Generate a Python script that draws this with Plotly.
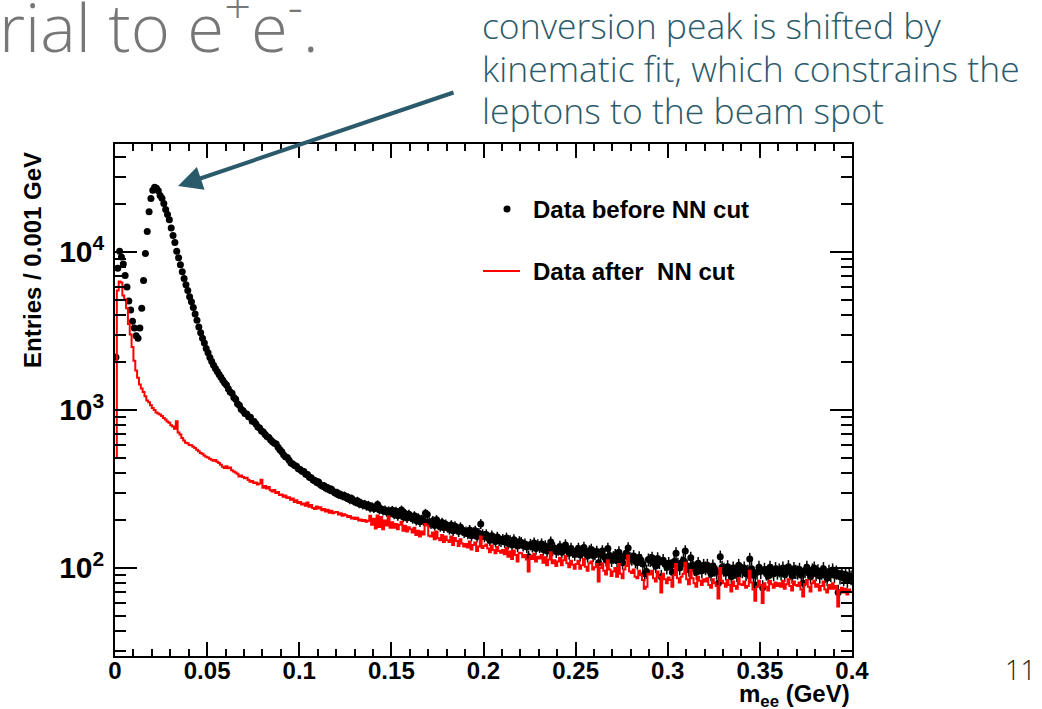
import numpy as np
import plotly.graph_objects as go

# ---------------- data (entries per 0.001 GeV bin, 0 - 0.4 GeV) ----------------
bin_width = 0.001
n_bins = 400

before_nn = [
    2160, 7900, 10100, 9300, 8400, 7100, 6000, 4900, 4300, 3650,
    3300, 2950, 2850, 3300, 4400, 6600, 9800, 13500, 18000, 21800,
    24600, 25700, 25300, 24400, 22800, 21900, 20300, 18600, 17300, 16000,
    14200, 12700, 11500, 10100, 9200, 8300, 7500, 6800, 6200, 5700,
    5200, 4850, 4450, 4050, 3700, 3350, 3080, 2850, 2650, 2450,
    2300, 2150, 2030, 1920, 1830, 1750, 1680, 1610, 1540, 1480,
    1440, 1365, 1300, 1275, 1200, 1170, 1095, 1070, 1010, 990,
    950, 945, 905, 900, 850, 845, 815, 780, 770, 735,
    725, 700, 680, 670, 645, 630, 615, 610, 580, 560,
    545, 520, 505, 500, 480, 462, 455, 445, 440, 425,
    420, 410, 408, 392, 390, 375, 372, 360, 358, 348,
    350, 336, 330, 332, 320, 322, 312, 315, 305, 298,
    300, 290, 292, 285, 288, 278, 280, 270, 275, 265,
    262, 266, 255, 258, 250, 254, 246, 250, 240, 245,
    238, 242, 252, 234, 236, 230, 233, 226, 230, 224,
    232, 218, 229, 214, 226, 233, 210, 221, 207, 219,
    211, 205, 214, 200, 208, 196, 203, 199, 222, 218,
    195, 190, 199, 186, 202, 188, 183, 194, 180, 189,
    181, 176, 187, 172, 184, 178, 170, 181, 174, 168,
    170, 165, 174, 160, 168, 172, 158, 166, 190, 163,
    158, 163, 155, 150, 160, 153, 147, 157, 150, 148,
    152, 146, 155, 143, 149, 140, 151, 145, 138, 147,
    145, 139, 142, 136, 118, 141, 137, 144, 133, 140,
    136, 142, 131, 138, 128, 135, 146, 130, 134, 127,
    131, 137, 126, 134, 140, 129, 124, 133, 127, 122,
    128, 133, 121, 126, 135, 124, 119, 128, 131, 120,
    123, 127, 108, 122, 128, 118, 113, 133, 120, 112,
    117, 121, 111, 126, 114, 108, 119, 124, 134, 116,
    114, 119, 110, 108, 117, 112, 106, 92, 95, 113,
    112, 116, 107, 103, 115, 109, 88, 112, 106, 101,
    107, 103, 94, 110, 124, 106, 100, 108, 112, 128,
    103, 98, 116, 105, 99, 94, 107, 101, 96, 104,
    100, 104, 96, 92, 103, 98, 94, 80, 118, 101,
    98, 93, 102, 96, 88, 100, 95, 91, 104, 97,
    96, 100, 92, 95, 114, 99, 90, 78, 94, 101,
    95, 75, 98, 93, 89, 101, 96, 92, 99, 94,
    97, 93, 100, 91, 96, 102, 94, 89, 99, 95,
    94, 98, 90, 80, 96, 101, 93, 88, 97, 100,
    92, 96, 89, 94, 99, 90, 86, 95, 91, 97,
    90, 94, 70, 88, 92, 86, 91, 84, 89, 87,
]

after_nn = [
    500, 5700, 6500, 6400, 5300, 5000, 4400, 3500, 3000, 2500,
    2050, 1780, 1600, 1450, 1370, 1300, 1220, 1150, 1120, 1070,
    1030, 1000, 965, 950, 935, 915, 890, 870, 845, 830,
    800, 785, 760, 850, 720, 700, 665, 640, 620, 615,
    600, 598, 585, 575, 560, 548, 535, 528, 515, 505,
    500, 492, 485, 478, 482, 470, 462, 450, 438, 430,
    440, 428, 432, 415, 408, 402, 395, 380, 385, 376,
    370, 372, 360, 352, 355, 345, 348, 338, 342, 362,
    322, 330, 318, 325, 310, 305, 312, 298, 303, 290,
    292, 282, 288, 277, 280, 270, 275, 262, 268, 258,
    262, 252, 256, 248, 260, 244, 250, 240, 236, 245,
    238, 242, 232, 236, 228, 234, 224, 230, 222, 225,
    226, 218, 222, 214, 219, 216, 210, 213, 206, 209,
    204, 208, 200, 203, 198, 201, 196, 199, 214, 188,
    205, 178, 215, 182, 210, 176, 200, 186, 212, 180,
    195, 180, 190, 176, 188, 196, 172, 185, 170, 181,
    176, 168, 180, 162, 172, 158, 170, 163, 190, 186,
    160, 158, 168, 152, 170, 154, 150, 162, 146, 158,
    150, 146, 158, 140, 155, 148, 138, 152, 143, 137,
    142, 135, 147, 131, 140, 145, 128, 137, 158, 134,
    138, 141, 133, 126, 139, 130, 124, 136, 128, 125,
    130, 122, 134, 118, 127, 114, 129, 121, 110, 125,
    124, 117, 121, 113, 95, 119, 114, 123, 110, 118,
    115, 121, 108, 117, 104, 113, 126, 107, 112, 103,
    110, 116, 104, 112, 119, 107, 101, 111, 105, 99,
    106, 111, 99, 104, 114, 102, 96, 107, 110, 98,
    101, 106, 82, 100, 107, 96, 91, 112, 98, 89,
    95, 100, 88, 106, 92, 86, 98, 103, 120, 95,
    93, 98, 88, 86, 96, 90, 84, 74, 76, 92,
    91, 96, 86, 82, 95, 88, 70, 92, 85, 80,
    87, 84, 76, 90, 106, 86, 81, 88, 92, 108,
    85, 79, 97, 86, 80, 76, 88, 83, 78, 85,
    82, 86, 78, 75, 85, 80, 77, 64, 100, 83,
    80, 76, 84, 78, 71, 82, 77, 74, 86, 79,
    78, 82, 75, 77, 96, 81, 73, 62, 76, 83,
    78, 60, 80, 76, 72, 83, 79, 75, 81, 77,
    80, 76, 83, 74, 79, 85, 77, 72, 82, 78,
    77, 81, 73, 66, 79, 84, 76, 71, 80, 83,
    76, 79, 72, 77, 82, 73, 70, 78, 74, 80,
    74, 77, 57, 72, 75, 70, 74, 68, 73, 71,
]

series_names = ["Data before NN cut", "Data after\u00a0 NN cut"]
x_tick_vals = [0, 0.05, 0.1, 0.15, 0.2, 0.25, 0.3, 0.35, 0.4]
x_tick_text = ["0", "0.05", "0.1", "0.15", "0.2", "0.25", "0.3", "0.35", "0.4"]
note_lines = ["conversion peak is shifted by",
              "kinematic fit, which constrains the",
              "leptons to the beam spot"]

mass = (np.arange(n_bins) + 0.5) * bin_width

# ---------------- layout geometry (pixels) ----------------
W, H = 1042, 709
L, R, T, B = 115, 190, 144, 53
PW, PH = W - L - R, H - T - B


def px(xp):
    return (xp - L) / PW


def py(yp):
    return (H - B - yp) / PH


FONT = "Liberation Sans"
LIGHT = "Open Sans"
TEAL = "#2b5a6a"
FS = 24

fig = go.Figure()
fig.add_trace(go.Scatter(
    x=mass, y=before_nn, mode="markers",
    marker=dict(color="black", size=7),
    error_y=dict(type="data", array=np.sqrt(np.array(before_nn, dtype=float)),
                 color="black", thickness=1.5, width=0),
    name=series_names[0], showlegend=False,
))
fig.add_trace(go.Scatter(
    x=mass, y=after_nn, mode="lines",
    line=dict(color="#ff0000", width=2, shape="hvh"),
    name=series_names[1], showlegend=False,
))

axis_common = dict(
    showline=True, linecolor="black", linewidth=2, mirror="allticks",
    ticks="inside", tickcolor="black", tickwidth=1.5,
    showgrid=False, zeroline=False,
    tickfont=dict(family=FONT, size=FS, color="black", weight="bold"),
)

fig.update_xaxes(
    range=[0, 0.4], tickvals=x_tick_vals, ticktext=x_tick_text, ticklen=14,
    ticklabelstandoff=-8,
    minor=dict(ticks="inside", ticklen=7, dtick=0.01, tickcolor="black", tickwidth=1.5, showgrid=False),
    **axis_common,
)
fig.update_yaxes(
    type="log", range=[1.443, 4.6835], dtick=1, exponentformat="power", ticklen=22,
    ticklabelstandoff=4,
    minor=dict(ticks="inside", ticklen=11, dtick="D1", tickcolor="black", tickwidth=1.5, showgrid=False),
    **axis_common,
)

annotations = [
    # slide title fragment
    dict(text="rial to e<sup>+</sup>e<sup>-</sup>.", x=px(-3), y=py(23), xanchor="left", yanchor="middle",
         font=dict(family=LIGHT, size=67, color="#777777", weight=300)),
    # arrow
    dict(text="", x=px(178), y=py(186), ax=277, ay=-94, axref="pixel", ayref="pixel",
         showarrow=True, arrowhead=2, arrowsize=1.2, arrowwidth=4, arrowcolor=TEAL),
    # page number
    dict(text="11", x=px(1020), y=py(669), xanchor="center", yanchor="middle",
         font=dict(family=LIGHT, size=27, color="#222222", weight=300)),
    # legend texts
    dict(text=series_names[0], x=px(531), y=py(209), xanchor="left", yanchor="middle",
         font=dict(family=FONT, size=FS, color="black", weight="bold")),
    dict(text=series_names[1], x=px(531), y=py(271), xanchor="left", yanchor="middle",
         font=dict(family=FONT, size=FS, color="black", weight="bold")),
    # axis titles
    dict(text="m<sub>ee</sub> (GeV)", x=1, y=py(695), xanchor="right", yanchor="middle",
         font=dict(family=FONT, size=FS, color="black", weight="bold")),
    dict(text="Entries / 0.001 GeV", x=px(32), y=py(260), xanchor="center", yanchor="middle",
         textangle=-90, font=dict(family=FONT, size=FS, color="black", weight="bold")),
]
# explanatory text, one annotation per line to keep the slide's line spacing
for i, line in enumerate(note_lines):
    annotations.append(dict(text=line, x=px(480), y=py(25 + 42.5 * i), xanchor="left", yanchor="middle",
                            font=dict(family=LIGHT, size=35.5, color=TEAL, weight=300)))

for a in annotations:
    a.setdefault("showarrow", False)
    a["xref"] = "paper"
    a["yref"] = "paper"

shapes = [
    dict(type="line", xref="paper", yref="paper", x0=px(483), x1=px(520), y0=py(271), y1=py(271),
         line=dict(color="#ff0000", width=2)),
    dict(type="circle", xref="paper", yref="paper", x0=px(503.5), x1=px(510.5), y0=py(205.5), y1=py(212.5),
         fillcolor="black", line=dict(color="black", width=0)),
]

fig.update_layout(
    width=W, height=H,
    margin=dict(l=L, r=R, t=T, b=B),
    paper_bgcolor="white", plot_bgcolor="white",
    showlegend=False,
    annotations=annotations, shapes=shapes,
)

fig.write_html("out.html")
